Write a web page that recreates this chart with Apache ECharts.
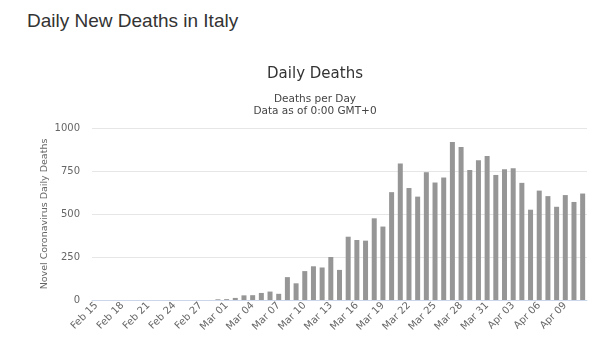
<!DOCTYPE html>
<html>
<head>
<meta charset="utf-8">
<title>Daily New Deaths in Italy</title>
<script src="https://cdn.jsdelivr.net/npm/echarts@6/dist/echarts.min.js"></script>
<style>
  body { margin: 0; background: #fff; }
  h2 { position: absolute; left: 27px; top: 10px; margin: 0; font: 19px "Liberation Sans", Arial, sans-serif; color: #333; }
  #chart { position: absolute; left: 0; top: 0; width: 610px; height: 352px; }
</style>
</head>
<body>
<h2>Daily New Deaths in Italy</h2>
<div id="chart"></div>
<script>
// dates Feb 15 .. Apr 11
var days = ['Feb 15','Feb 16','Feb 17','Feb 18','Feb 19','Feb 20','Feb 21','Feb 22','Feb 23','Feb 24',
  'Feb 25','Feb 26','Feb 27','Feb 28','Feb 29','Mar 01','Mar 02','Mar 03','Mar 04','Mar 05',
  'Mar 06','Mar 07','Mar 08','Mar 09','Mar 10','Mar 11','Mar 12','Mar 13','Mar 14','Mar 15',
  'Mar 16','Mar 17','Mar 18','Mar 19','Mar 20','Mar 21','Mar 22','Mar 23','Mar 24','Mar 25',
  'Mar 26','Mar 27','Mar 28','Mar 29','Mar 30','Mar 31','Apr 01','Apr 02','Apr 03','Apr 04',
  'Apr 05','Apr 06','Apr 07','Apr 08','Apr 09','Apr 10','Apr 11'];
var deaths = [0,0,0,0,0,0,0,0,0,0,
  0,0,0,0,4,5,12,27,28,41,
  49,36,133,97,168,196,189,250,175,368,
  349,345,475,427,627,793,651,601,743,683,
  712,919,889,756,812,837,727,760,766,681,
  525,636,604,542,610,570,619];
var yTicks = [0, 250, 500, 750, 1000];

var chart = echarts.init(document.getElementById('chart'));
chart.setOption({
  animation: false,
  title: [{
    text: 'Daily Deaths',
    left: 310, top: 62, textAlign: 'center',
    textStyle: { fontFamily: 'DejaVu Sans', fontSize: 15, fontWeight: 'normal', color: '#333' }
  }, {
    text: 'Deaths per Day\nData as of 0:00 GMT+0',
    left: 310, top: 88, textAlign: 'center',
    textStyle: { fontFamily: 'DejaVu Sans', fontSize: 10.5, fontWeight: 'normal', color: '#444', lineHeight: 12 }
  }],
  grid: { left: 92, right: 23, top: 128, bottom: 52 },
  xAxis: {
    type: 'category',
    data: days,
    axisLine: { lineStyle: { color: '#ccd6eb' } },
    axisTick: { show: false },
    axisLabel: { interval: 2, rotate: 45, fontFamily: 'DejaVu Sans', fontSize: 10, color: '#666', margin: 4 }
  },
  yAxis: {
    type: 'value',
    min: yTicks[0], max: yTicks[yTicks.length - 1], interval: 250,
    name: 'Novel Coronavirus Daily Deaths',
    nameLocation: 'middle', nameGap: 42, nameMoveOverlap: false,
    nameTextStyle: { fontFamily: 'DejaVu Sans', fontSize: 9.5, color: '#666' },
    axisLabel: { fontFamily: 'DejaVu Sans', fontSize: 10, color: '#666', margin: 12, formatter: function (v) { return String(v); } },
    splitLine: { lineStyle: { color: '#e6e6e6' } }
  },
  series: [{
    type: 'bar',
    data: deaths,
    barWidth: 5,
    itemStyle: { color: '#969696' }
  }]
});
</script>
</body>
</html>
